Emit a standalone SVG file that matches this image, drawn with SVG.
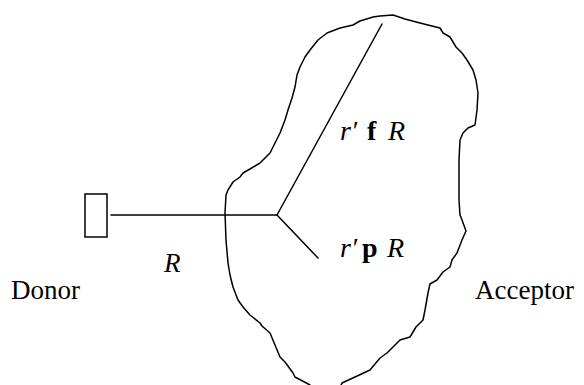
<svg xmlns="http://www.w3.org/2000/svg" width="584" height="385" viewBox="0 0 584 385">
<style>
.ln{fill:none;stroke:#000;stroke-width:1.5;stroke-linejoin:round;stroke-linecap:round}
.t{font-family:"Liberation Serif",serif;font-size:27px;fill:#000}
.s{font-size:28px}
.i{font-style:italic}
.b{font-weight:bold}
</style>
<rect width="584" height="385" fill="#fff"/>
<g id="acceptor">
<path class="ln" d="M373,17 L380,16 L393,15 L405,19 L420,23 L440,28 L443,33 L450,37 L456,47 L462,53 L467,60 L473,70 L476,80 L478,93 L477,110 L475,125 L468,128 L463,133 L460,140 L459,160 L459,200 L460,215 L462,220 L466,231 L462,240 L457,253 L452,260 L450,267 L443,272 L437,280 L430,284 L428,293 L425,310 L423,320 L416,327 L410,337 L400,340 L393,347 L387,353 L380,358 L370,370 L355,377 L342,383 L338,392 M313,392 L310,385 L295,377 L293,373 L285,362 L280,357 L275,345 L270,333 L262,326 L260,323 L250,315 L243,307 L238,300 L233,287 L230,275 L228,263 L226,240 L225,213 L226,195 L228,190 L233,182 L240,177 L243,173 L250,169 L260,163 L270,153 L275,143 L280,133 L285,120 L288,110 L292,98 L295,87 L297,75 L300,67 L305,57 L310,50 L318,40 L327,33 L340,28 L353,25 L360,21 L373,17"/>
<text class="t" x="475" y="299">Acceptor</text>
</g>
<g id="donor">
<rect x="85" y="194" width="22" height="43" fill="#fff" stroke="#000" stroke-width="1.5"/>
<text class="t" x="11" y="299">Donor</text>
</g>
<g id="connectors">
<line class="ln" x1="111" y1="215" x2="277" y2="215"/>
<line class="ln" x1="277" y1="215" x2="382" y2="24"/>
<line class="ln" x1="277" y1="215" x2="318" y2="258"/>
</g>
<g id="labels">
<text class="t i" x="164" y="272">R</text>
<text class="t s" y="140"><tspan class="i" x="340">r′</tspan><tspan class="b" x="367">f</tspan><tspan class="i" x="388">R</tspan></text>
<text class="t s" y="257"><tspan class="i" x="340">r′</tspan><tspan class="b" x="362">p</tspan><tspan class="i" x="387">R</tspan></text>
</g>
</svg>
